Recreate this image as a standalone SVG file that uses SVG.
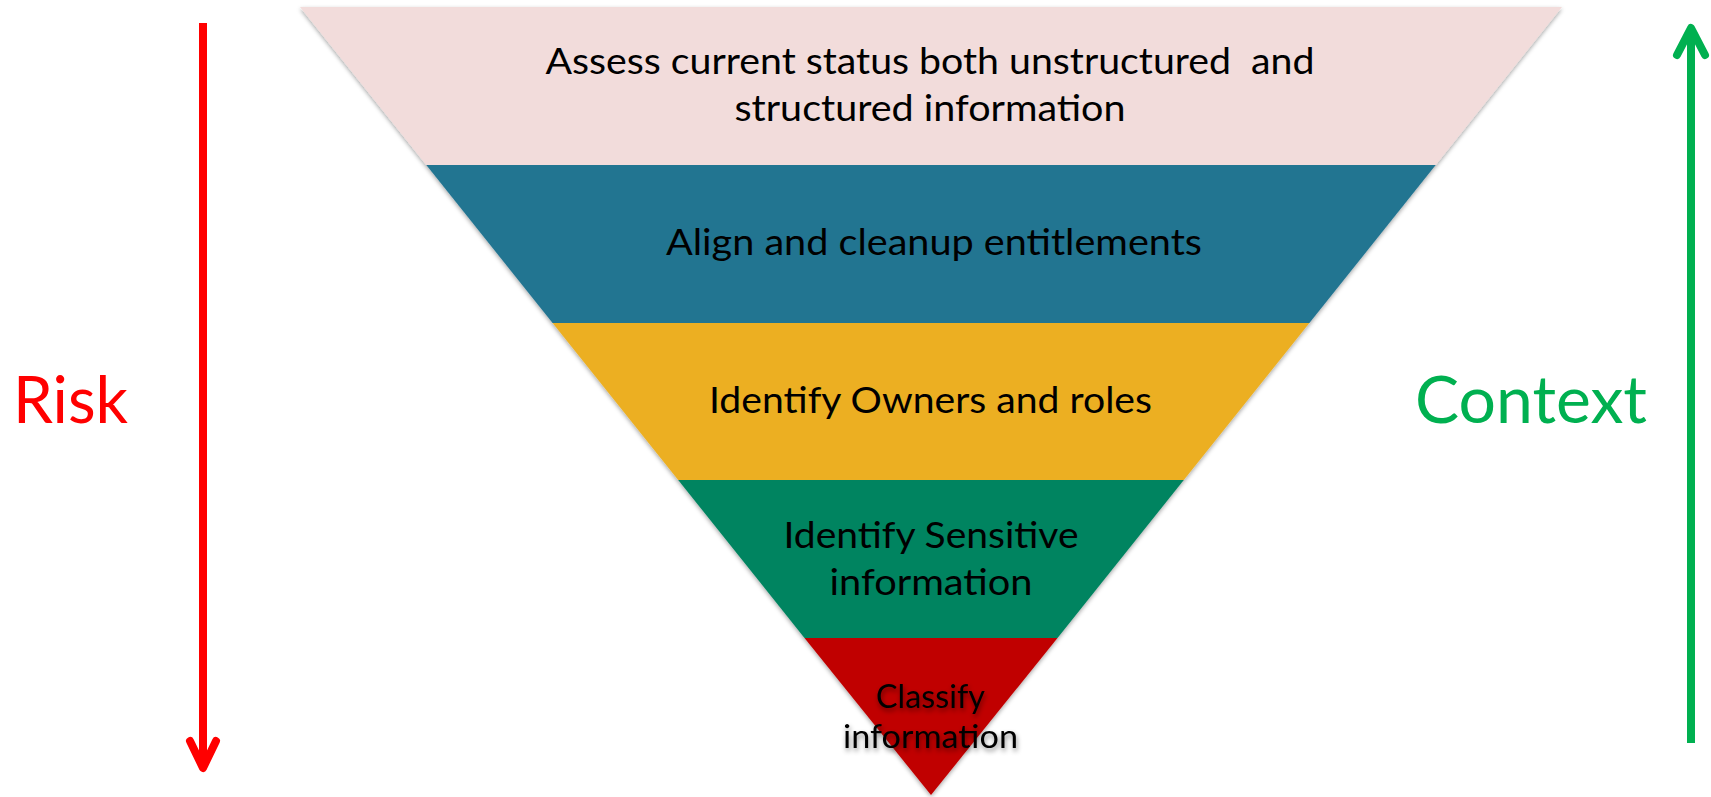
<svg xmlns="http://www.w3.org/2000/svg" width="1711" height="797" viewBox="0 0 1711 797">
<style>
.lbl{font-family:Lato,"Open Sans","Liberation Sans",sans-serif;fill:#000;text-anchor:middle;}
.big{font-size:37px;}
.small{font-size:33px;}
.side{font-family:Lato,"Open Sans","Liberation Sans",sans-serif;font-size:66px;}
</style>
<defs>
<filter id="sh" x="-5%" y="-5%" width="110%" height="110%">
<feDropShadow dx="0" dy="2" stdDeviation="2" flood-color="#000" flood-opacity="0.35"/>
</filter>
<filter id="tsh" x="-20%" y="-30%" width="140%" height="160%">
<feDropShadow dx="1" dy="3" stdDeviation="2.5" flood-color="#000" flood-opacity="0.45"/>
</filter>
<marker id="headRed" markerUnits="userSpaceOnUse" viewBox="-40 -25 50 50" refX="0" refY="0" markerWidth="50" markerHeight="50" orient="auto" overflow="visible">
<path d="M-27,-13 L0,0 L-27,13" fill="none" stroke="#FF0000" stroke-width="8" stroke-linecap="round" stroke-linejoin="round"/>
</marker>
<marker id="headGreen" markerUnits="userSpaceOnUse" viewBox="-40 -25 50 50" refX="0" refY="0" markerWidth="50" markerHeight="50" orient="auto" overflow="visible">
<path d="M-27,-14 L0,0 L-27,14" fill="none" stroke="#00B050" stroke-width="8" stroke-linecap="round" stroke-linejoin="round"/>
</marker>
</defs>
<rect width="1711" height="797" fill="#fff"/>
<g id="funnel" filter="url(#sh)">
<g id="assess">
<polygon points="300,7 1562,7 1435.7,165 426.3,165" fill="#F2DCDB"/>
</g>
<g id="align">
<polygon points="426.3,165 1435.7,165 1309.4,323 552.6,323" fill="#247491"/>
</g>
<g id="owners">
<polygon points="552.6,323 1309.4,323 1183.8,480 678.2,480" fill="#ECAF21"/>
</g>
<g id="sensitive">
<polygon points="678.2,480 1183.8,480 1057.5,638 804.5,638" fill="#038460"/>
</g>
<g id="classify">
<polygon points="804.5,638 1057.5,638 931,795" fill="#C00000"/>
</g>
</g>
<g id="labels">
<text class="lbl big" x="930" y="74" textLength="769" lengthAdjust="spacingAndGlyphs" xml:space="preserve">Assess current status both unstructured  and</text>
<text class="lbl big" x="930" y="121" textLength="391" lengthAdjust="spacingAndGlyphs">structured information</text>
<text class="lbl big" x="934" y="255" textLength="536" lengthAdjust="spacingAndGlyphs">Align and cleanup entitlements</text>
<text class="lbl big" x="930.5" y="413" textLength="443" lengthAdjust="spacingAndGlyphs">Identify Owners and roles</text>
<text class="lbl big" x="931" y="548" textLength="295" lengthAdjust="spacingAndGlyphs">Identify Sensitive</text>
<text class="lbl big" x="931" y="595" textLength="203" lengthAdjust="spacingAndGlyphs">information</text>
<g filter="url(#tsh)">
<text class="lbl small" x="930.5" y="708" textLength="109" lengthAdjust="spacingAndGlyphs">Classify</text>
<text class="lbl small" x="930.5" y="748" textLength="175" lengthAdjust="spacingAndGlyphs">information</text>
</g>
</g>
<g id="connectors">
<line x1="203" y1="23" x2="203" y2="768" stroke="#FF0000" stroke-width="8" marker-end="url(#headRed)"/>
<line x1="1691" y1="743" x2="1691" y2="28" stroke="#00B050" stroke-width="8" marker-end="url(#headGreen)"/>
</g>
<g id="risk">
<text class="side" x="13" y="423" fill="#FF0000" textLength="115" lengthAdjust="spacingAndGlyphs">Risk</text>
</g>
<g id="context">
<text class="side" x="1415" y="423" fill="#00B050" textLength="232" lengthAdjust="spacingAndGlyphs">Context</text>
</g>
</svg>
